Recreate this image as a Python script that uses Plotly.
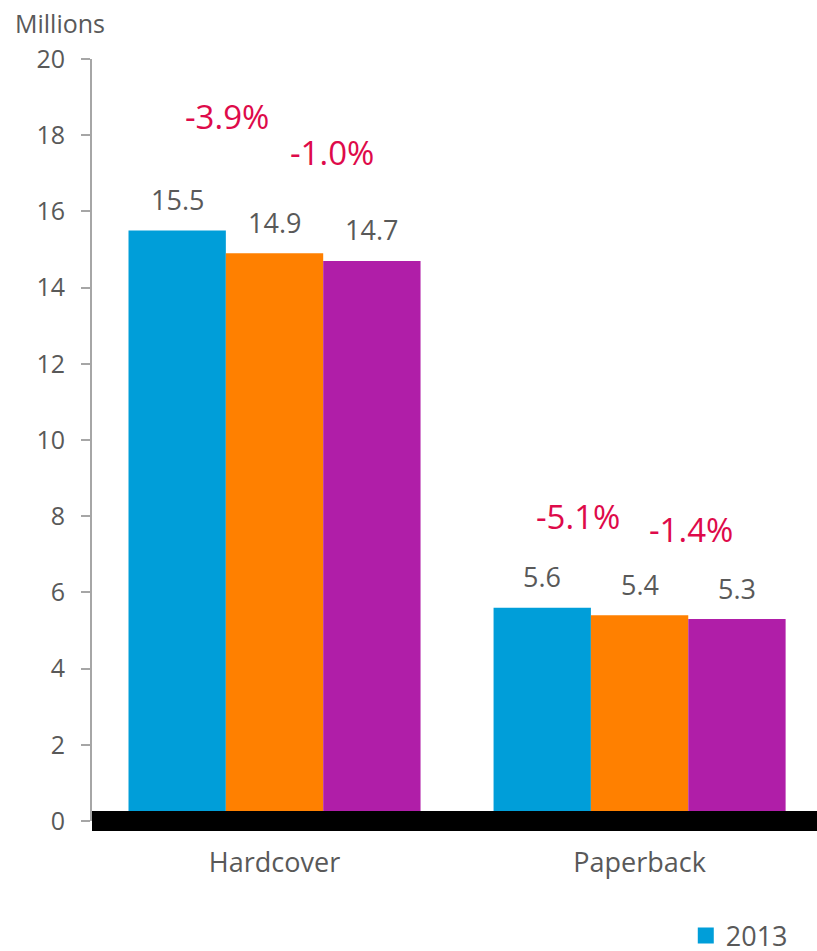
import plotly.graph_objects as go

# data
categories = ["Hardcover", "Paperback"]
years = ["2013", "2014", "2015"]
values_2013 = [15.5, 5.6]
values_2014 = [14.9, 5.4]
values_2015 = [14.7, 5.3]
pct_labels = [["-3.9%", "-1.0%"], ["-5.1%", "-1.4%"]]

# style / placement
colors = ["#009ed9", "#ff8000", "#b01ea8"]
text_grey = "#595959"
red = "#de0a4a"
FONT = "Open Sans"
bar_w = 0.8 / 3
# (x offset from category centre, y in data units) for the change labels
pct_pos = [[(-0.129, 18.5), (0.157, 17.55)], [(-0.17, 8.0), (0.14, 7.66)]]

series = [values_2013, values_2014, values_2015]

fig = go.Figure()
for j, (yr, vals) in enumerate(zip(years, series)):
    fig.add_trace(go.Bar(
        x=list(range(len(categories))),
        y=vals,
        name=yr,
        marker=dict(color=colors[j], line=dict(width=0)),
        showlegend=False,
    ))
# legend entry drawn with a bigger square swatch than the bar default
fig.add_trace(go.Scatter(
    x=[None], y=[None], mode="markers", name=years[0],
    marker=dict(symbol="square", size=16, color=colors[0]),
))

annotations = []
# value labels above each bar
for j, vals in enumerate(series):
    for i, v in enumerate(vals):
        annotations.append(dict(
            x=i + (j - 1) * bar_w, y=v, xref="x", yref="y",
            text=f"{v:.1f}", showarrow=False,
            yanchor="middle", yshift=31,
            font=dict(family=FONT, size=27, color=text_grey),
        ))
# percent change labels
for i in range(len(categories)):
    for k, txt in enumerate(pct_labels[i]):
        dx, yy = pct_pos[i][k]
        annotations.append(dict(
            x=i + dx, y=yy, xref="x", yref="y",
            text=txt, showarrow=False, yanchor="middle",
            font=dict(family=FONT, size=33, color=red),
        ))
# unit label
annotations.append(dict(
    x=-0.109, y=1.047, xref="paper", yref="paper", xanchor="left", yanchor="middle",
    text="Millions", showarrow=False,
    font=dict(family=FONT, size=25, color=text_grey),
))

fig.update_layout(
    width=817, height=951,
    margin=dict(l=92, r=0, t=59, b=130, autoexpand=False),
    plot_bgcolor="white", paper_bgcolor="white",
    barmode="group", bargap=0.2, bargroupgap=0,
    font=dict(family=FONT, color=text_grey),
    showlegend=True,
    legend=dict(
        orientation="h", x=0.819, xanchor="left", y=-0.151, yanchor="middle",
        font=dict(family=FONT, size=27, color=text_grey),
        bgcolor="rgba(0,0,0,0)",
    ),
    annotations=annotations,
    shapes=[dict(
        type="line", xref="paper", yref="paper", x0=0, x1=1.2, y0=0, y1=0,
        line=dict(color="black", width=20), layer="above",
    )],
    xaxis=dict(
        range=[-0.5, 1.486], tickvals=[0, 1], ticktext=categories,
        showgrid=False, zeroline=False, showline=False, ticks="",
        tickfont=dict(family=FONT, size=27, color=text_grey),
        ticklabelstandoff=23,
    ),
    yaxis=dict(
        range=[0, 20], dtick=2, showgrid=False, zeroline=False,
        showline=True, linecolor="#a6a6a6", linewidth=2,
        ticks="outside", ticklen=9, tickcolor="#a6a6a6", tickwidth=2,
        tickfont=dict(family=FONT, size=25, color=text_grey),
        ticklabelstandoff=11,
    ),
)

# drop the browser's default body margin so the figure fills the window
fig.write_html(
    "out.html",
    config={"displayModeBar": False},
    post_script="document.body.style.margin='0';document.documentElement.style.overflow='hidden';",
)
